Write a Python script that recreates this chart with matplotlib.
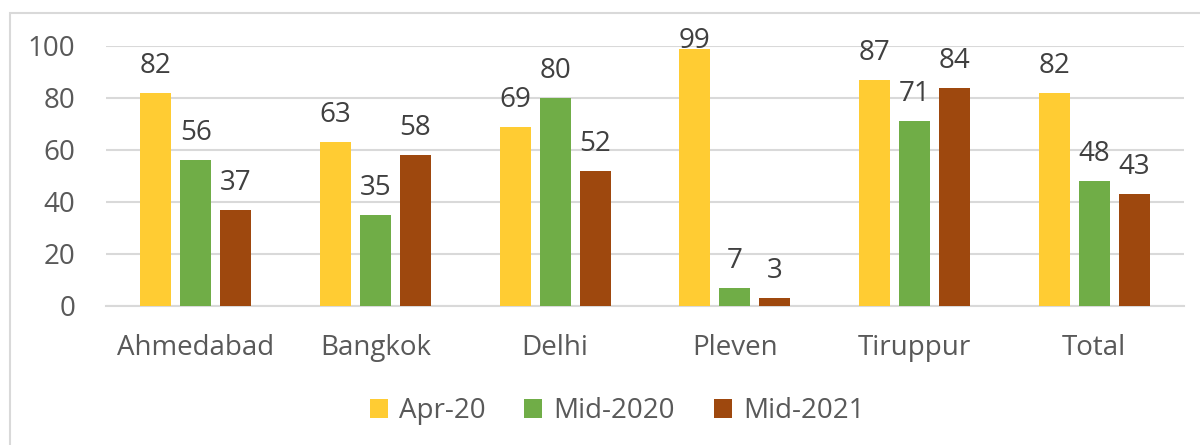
import matplotlib
matplotlib.use("Agg")
import matplotlib.pyplot as plt
from matplotlib.patches import Rectangle
import numpy as np

categories = ["Ahmedabad", "Bangkok", "Delhi", "Pleven", "Tiruppur", "Total"]
series_names = ["Apr-20", "Mid-2020", "Mid-2021"]
apr20 = [82, 63, 69, 99, 87, 82]
mid2020 = [56, 35, 80, 7, 71, 48]
mid2021 = [37, 58, 52, 3, 84, 43]
yticks = [0, 20, 40, 60, 80, 100]

colors = ["#FFCC33", "#70AD47", "#9E480E"]
FONT = ["Open Sans", "DejaVu Sans"]
plt.rcParams["font.family"] = FONT
FS = 20

fig = plt.figure(figsize=(12, 4.45), dpi=100)
W, H = 1200, 445
Y0, Y100 = 306, 46
ax = fig.add_axes([106 / W, 1 - Y0 / H, (1184 - 106) / W, (Y0 - Y100) / H])

# chart border
fig.patches.append(Rectangle((10 / W, -0.1), 1.2, 1 - 13 / H + 0.1,
                             transform=fig.transFigure, fill=False,
                             edgecolor="#D9D9D9", linewidth=1.5))

x = np.arange(len(categories))
bw = 0.1725
step = 0.2226
px_per_unit = (Y0 - Y100) / 100.0
for i, (vals, c, name) in enumerate(zip([apr20, mid2020, mid2021], colors, series_names)):
    pos = x + (i - 1) * step
    bars = ax.bar(pos, vals, width=bw, color=c, label=name, zorder=3)
    for b, v in zip(bars, vals):
        bar_top_px = Y0 - v * px_per_unit
        gap_px = min(20.0, bar_top_px - 48.0)
        ax.annotate(str(v), (b.get_x() + b.get_width() / 2, v),
                    xytext=(0, gap_px * 0.72),
                    textcoords="offset points", ha="center", va="baseline",
                    fontsize=FS, color="#404040", annotation_clip=False)

ax.set_xlim(-0.5, len(categories) - 0.5)
ax.set_ylim(0, 100)
ax.set_yticks(yticks)
ax.set_yticklabels([str(t) for t in yticks])
ax.set_xticks(x)
ax.set_xticklabels(categories)
ax.tick_params(axis="both", length=0, labelsize=FS, colors="#595959")
ax.tick_params(axis="y", pad=22)
ax.tick_params(axis="x", pad=20)
ax.grid(axis="y", color="#D9D9D9", linewidth=1.5, zorder=0)
for s in ["left", "right", "top"]:
    ax.spines[s].set_visible(False)
ax.spines["bottom"].set_color("#D9D9D9")
ax.spines["bottom"].set_linewidth(1.5)

leg = fig.legend(loc="center", bbox_to_anchor=(617 / W, 1 - 411 / H), ncol=3,
                 frameon=False, fontsize=FS, handlelength=0.65, handleheight=0.65,
                 columnspacing=1.4, handletextpad=0.4)
for t in leg.get_texts():
    t.set_color("#595959")

fig.savefig("out.png", dpi=100)
